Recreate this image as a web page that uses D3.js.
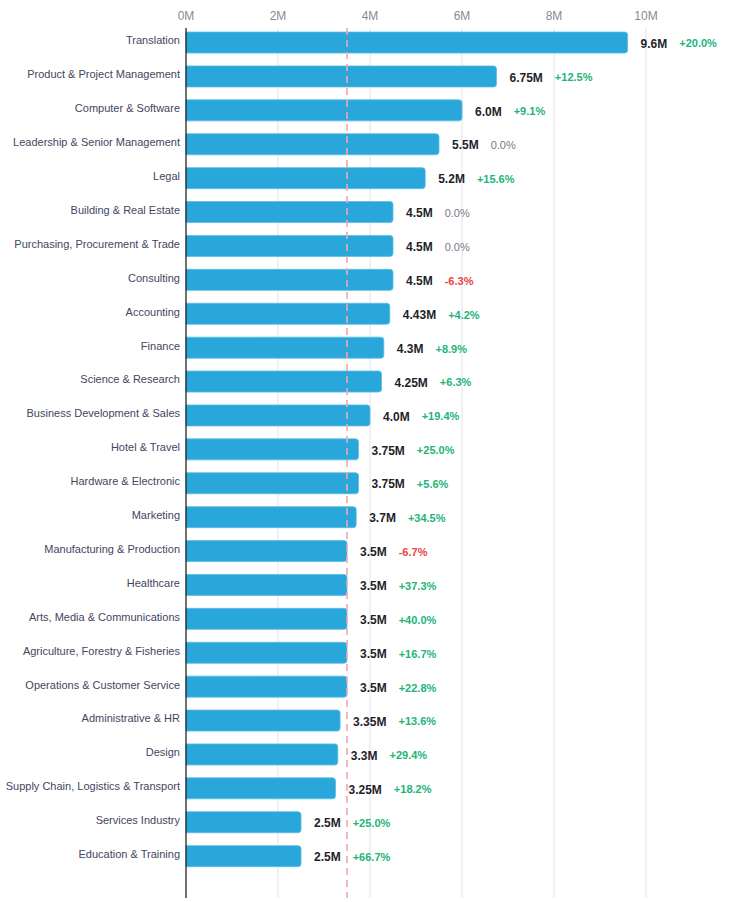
<!DOCTYPE html>
<html>
<head>
<meta charset="utf-8">
<script src="https://cdn.jsdelivr.net/npm/d3@7"></script>
<style>
  body { margin: 0; background: #fff; font-family: "Helvetica Neue", Arial, "Liberation Sans", sans-serif; }
</style>
</head>
<body>
<div class="chart"></div>
<script>
const categories = ["Translation", "Product & Project Management", "Computer & Software",
  "Leadership & Senior Management", "Legal", "Building & Real Estate",
  "Purchasing, Procurement & Trade", "Consulting", "Accounting", "Finance",
  "Science & Research", "Business Development & Sales", "Hotel & Travel",
  "Hardware & Electronic", "Marketing", "Manufacturing & Production", "Healthcare",
  "Arts, Media & Communications", "Agriculture, Forestry & Fisheries",
  "Operations & Customer Service", "Administrative & HR", "Design",
  "Supply Chain, Logistics & Transport", "Services Industry", "Education & Training"];
const values = [9.6, 6.75, 6.0, 5.5, 5.2, 4.5, 4.5, 4.5, 4.43, 4.3, 4.25, 4.0, 3.75,
  3.75, 3.7, 3.5, 3.5, 3.5, 3.5, 3.5, 3.35, 3.3, 3.25, 2.5, 2.5];
const changes = [20.0, 12.5, 9.1, 0.0, 15.6, 0.0, 0.0, -6.3, 4.2, 8.9, 6.3, 19.4, 25.0,
  5.6, 34.5, -6.7, 37.3, 40.0, 16.7, 22.8, 13.6, 29.4, 18.2, 25.0, 66.7];
const xTicks = [0, 2, 4, 6, 8, 10];
const medianValue = 3.5;

const data = categories.map((c, i) => ({name: c, value: values[i], change: changes[i]}));

const outerWidth = 734, outerHeight = 902;
const svg = d3.select(".chart").append("svg")
  .attr("width", outerWidth)
  .attr("height", outerHeight);

const xScale = d3.scaleLinear().domain([0, 10]).range([186, 646]);
const yScale = d3.scaleBand()
  .domain(categories)
  .range([25.6, 25.6 + 25 * 33.9])
  .paddingInner(0.38)
  .paddingOuter(0.19);

const gridTop = 28, gridBottom = 898;

// grid lines
svg.append("g").selectAll("line")
  .data(xTicks.filter(d => d > 0))
  .enter().append("line")
  .attr("x1", d => xScale(d)).attr("x2", d => xScale(d))
  .attr("y1", gridTop).attr("y2", gridBottom)
  .attr("stroke", "#e3e3ea").attr("stroke-width", 1);

// top tick labels
svg.append("g").selectAll("text")
  .data(xTicks)
  .enter().append("text")
  .attr("x", d => xScale(d))
  .attr("y", 16)
  .attr("dy", "0.35em")
  .attr("text-anchor", "middle")
  .attr("font-size", 12)
  .attr("fill", "#8a8a96")
  .text(d => d + "M");

// bars with rounded right end
const r = 3;
svg.append("g").selectAll("path")
  .data(data)
  .enter().append("path")
  .attr("d", d => {
    const x0 = xScale(0), x1 = xScale(d.value), y0 = yScale(d.name), h = yScale.bandwidth();
    return `M${x0},${y0}H${x1 - r}Q${x1},${y0} ${x1},${y0 + r}V${y0 + h - r}Q${x1},${y0 + h} ${x1 - r},${y0 + h}H${x0}Z`;
  })
  .attr("fill", "#29a7da")
  .attr("stroke", "#5cbde6")
  .attr("stroke-width", 0.8);

// median dashed line
svg.append("line")
  .attr("x1", xScale(medianValue)).attr("x2", xScale(medianValue))
  .attr("y1", gridTop).attr("y2", gridBottom)
  .attr("stroke", "#f2a5ad").attr("stroke-width", 1.6)
  .attr("stroke-dasharray", "7,5");

// axis line
svg.append("line")
  .attr("x1", xScale(0)).attr("x2", xScale(0))
  .attr("y1", gridTop).attr("y2", gridBottom)
  .attr("stroke", "#111").attr("stroke-width", 1.2);

// category labels
svg.append("g").selectAll("text")
  .data(data)
  .enter().append("text")
  .attr("x", 180)
  .attr("y", d => yScale(d.name) + yScale.bandwidth() / 2 - 2)
  .attr("dy", "0.35em")
  .attr("text-anchor", "end")
  .attr("font-size", 11)
  .attr("fill", "#45455e")
  .text(d => d.name);

const fmtValue = v => {
  const s = (Math.round(v * 100) / 100).toString();
  return (s.includes(".") ? s : v.toFixed(1)) + "M";
};
const fmtChange = c => (c > 0 ? "+" : "") + c.toFixed(1) + "%";

// value + change labels
const labels = svg.append("g").selectAll("g")
  .data(data)
  .enter().append("g")
  .attr("transform", d => `translate(${xScale(d.value) + 13},${yScale(d.name) + yScale.bandwidth() / 2 + 1})`);

labels.append("text")
  .attr("class", "val")
  .attr("dy", "0.35em")
  .attr("font-size", 12)
  .attr("font-weight", "bold")
  .attr("fill", "#1f1f2a")
  .text(d => fmtValue(d.value));

labels.each(function(d) {
  const g = d3.select(this);
  const w = g.select("text.val").node().getComputedTextLength();
  g.append("text")
    .attr("x", w + 12)
    .attr("dy", "0.35em")
    .attr("font-size", 11)
    .attr("font-weight", d.change === 0 ? "normal" : "bold")
    .attr("fill", d.change > 0 ? "#1db47a" : d.change < 0 ? "#e8424a" : "#7a7a86")
    .text(fmtChange(d.change));
});
</script>
</body>
</html>
